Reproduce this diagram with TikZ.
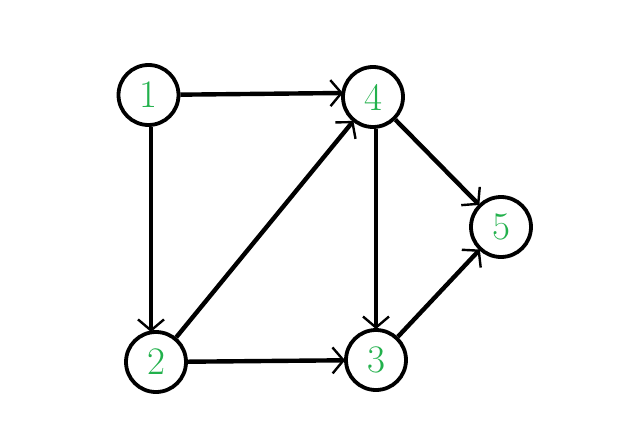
\documentclass[tikz,border=0pt]{standalone}
\usetikzlibrary{arrows.meta}
\definecolor{numgreen}{RGB}{34,177,76}
\begin{document}
\begin{tikzpicture}[x=1pt,y=-1pt,
  vtx/.style={circle,draw=black,line width=3.8pt,fill=white,minimum size=60pt,inner sep=0pt,
    text=numgreen,font=\fontsize{39}{45}\selectfont},
  edge/.style={line width=4.4pt,-{Straight Barb[length=11pt,width=26pt,line width=2.4pt]},shorten >=-1pt}]
\useasboundingbox (0,0) rectangle (642,433);
\node[vtx] (n1) at (148.5,95) {1};
\node[vtx] (n4) at (373,97) {4};
\node[vtx] (n5) at (501,227) {5};
\node[vtx] (n2) at (156,362) {2};
\node[vtx] (n3) at (376,360) {3};
\coordinate (t2) at (151,331);
\coordinate (t4) at (342,93);
\draw[edge] (n1) -- (t4);
\draw[edge] (n1.south -| t2) -- (t2);
\draw[edge] (n2) -- (n4);
\draw[edge] (n2) -- (n3);
\draw[edge] (n4.south -| n3) -- (n3);
\draw[edge] (n4) -- (n5);
\draw[edge] (n3) -- (n5);
\end{tikzpicture}
\end{document}
